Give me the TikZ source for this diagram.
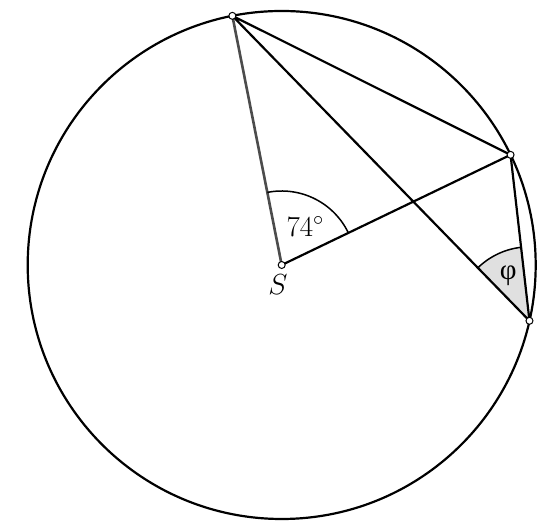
\RequirePackage{fix-cm}
\documentclass[tikz,border=0pt]{standalone}
\usepackage{fontspec}
\usetikzlibrary{calc}
\newfontfamily\grfont{Liberation Serif}
\begin{document}
\begin{tikzpicture}[x=1pt,y=1pt,
  ln/.style={line width=2.2pt, line join=round},
  pt/.style={circle, draw=black, fill=white, line width=1pt, inner sep=0pt, minimum size=7pt},
  lbl/.style={font=\fontsize{29}{32}\selectfont, inner sep=0pt}]
\useasboundingbox (0,0) rectangle (558,529);
\coordinate (S) at (281.7,264);
\coordinate (A) at ($(S)+(101.2:254)$);
\coordinate (B) at ($(S)+(25.7:254)$);
\coordinate (C) at ($(S)+(-12.7:254)$);
% phi sector
\fill[black!12] (C) -- ++(134.25:74) arc[start angle=134.25, end angle=96.5, radius=74] -- cycle;
\draw[ln] (S) circle[radius=254];
\draw[ln] (A) -- (B) (A) -- (C) (S) -- (B) (B) -- (C);
\draw[line width=2.6pt, black!70] (S) -- (A);
\draw[line width=1.5pt] ($(S)+(25.7:74)$) arc[start angle=25.7, end angle=101.2, radius=74];
\draw[line width=1.5pt] ($(C)+(134.25:74)$) arc[start angle=134.25, end angle=96.5, radius=74];
\node[lbl] (t74) at ($(S)+(58.5:45)$) {$74^\circ$};
\node[lbl] (tphi) at ($(C)+(115:50)$) {\grfont φ};
\node[lbl] (tS) at (278,244) {$S$};
\node[pt] (pS) at (S) {};
\node[pt] (pA) at (A) {};
\node[pt] (pB) at (B) {};
\node[pt] (pC) at (C) {};
\end{tikzpicture}
\end{document}
